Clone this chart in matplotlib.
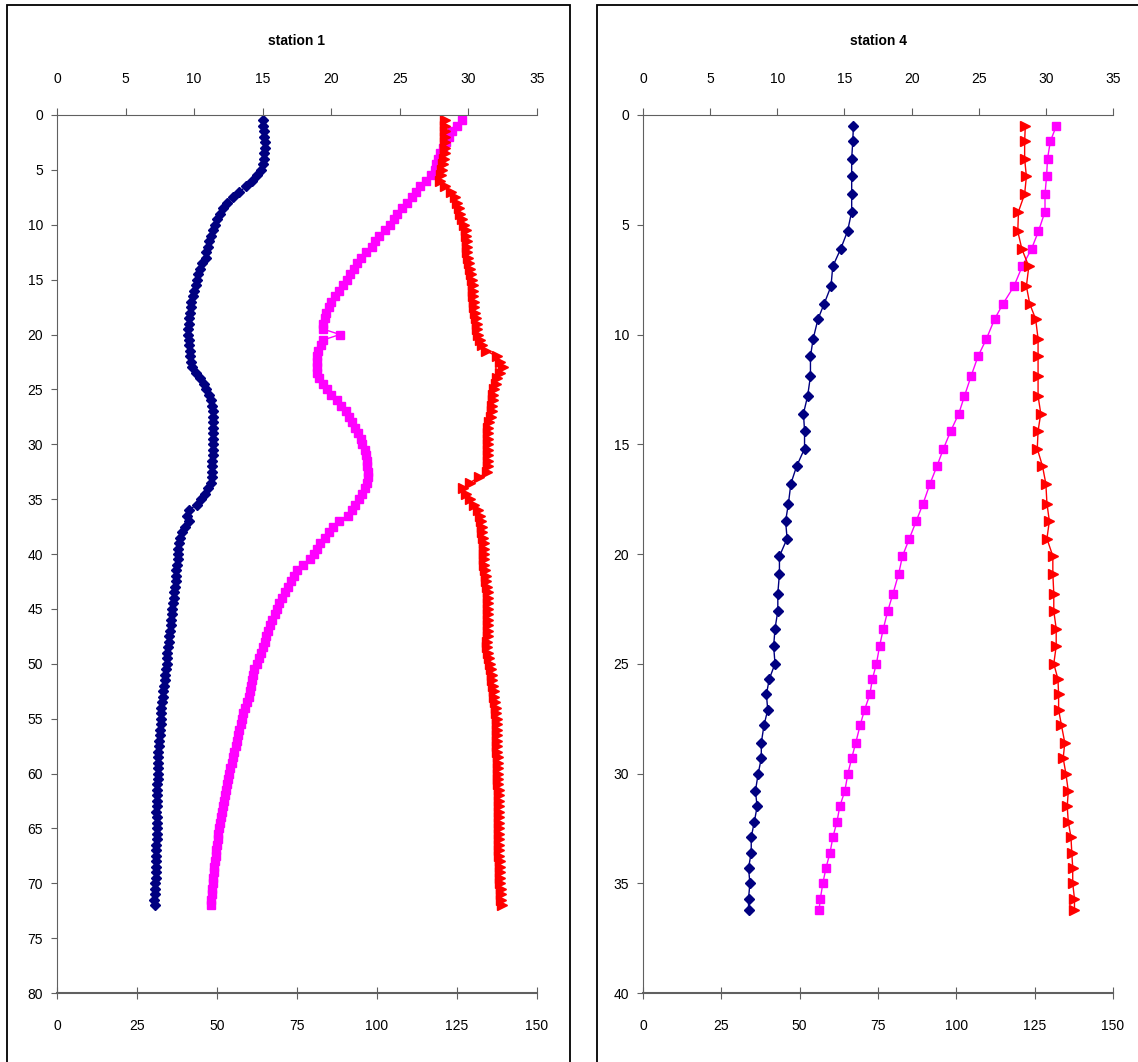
import matplotlib
matplotlib.use('Agg')
import matplotlib.pyplot as plt
from matplotlib.patches import Rectangle

plt.rcParams['font.family'] = ['Liberation Sans', 'DejaVu Sans']
plt.rcParams['font.size'] = 10

# ---- station 1 (depth every 0.5 m, 0.5 .. 72) ----
depth1 = [0.5, 1.0, 1.5, 2.0, 2.5, 3.0, 3.5, 4.0, 4.5, 5.0,
          5.5, 6.0, 6.5, 7.0, 7.5, 8.0, 8.5, 9.0, 9.5, 10.0,
          10.5, 11.0, 11.5, 12.0, 12.5, 13.0, 13.5, 14.0, 14.5, 15.0,
          15.5, 16.0, 16.5, 17.0, 17.5, 18.0, 18.5, 19.0, 19.5, 20.0,
          20.5, 21.0, 21.5, 22.0, 22.5, 23.0, 23.5, 24.0, 24.5, 25.0,
          25.5, 26.0, 26.5, 27.0, 27.5, 28.0, 28.5, 29.0, 29.5, 30.0,
          30.5, 31.0, 31.5, 32.0, 32.5, 33.0, 33.5, 34.0, 34.5, 35.0,
          35.5, 36.0, 36.5, 37.0, 37.5, 38.0, 38.5, 39.0, 39.5, 40.0,
          40.5, 41.0, 41.5, 42.0, 42.5, 43.0, 43.5, 44.0, 44.5, 45.0,
          45.5, 46.0, 46.5, 47.0, 47.5, 48.0, 48.5, 49.0, 49.5, 50.0,
          50.5, 51.0, 51.5, 52.0, 52.5, 53.0, 53.5, 54.0, 54.5, 55.0,
          55.5, 56.0, 56.5, 57.0, 57.5, 58.0, 58.5, 59.0, 59.5, 60.0,
          60.5, 61.0, 61.5, 62.0, 62.5, 63.0, 63.5, 64.0, 64.5, 65.0,
          65.5, 66.0, 66.5, 67.0, 67.5, 68.0, 68.5, 69.0, 69.5, 70.0,
          70.5, 71.0, 71.5, 72.0]

temp1 = [15.0, 15.0, 15.1, 15.1, 15.2, 15.2, 15.1, 15.1, 15.0, 14.9,
         14.6, 14.2, 13.8, 13.3, 12.8, 12.4, 12.1, 11.9, 11.7, 11.5,
         11.4, 11.2, 11.1, 11.0, 10.9, 10.9, 10.6, 10.4, 10.3, 10.2,
         10.1, 10.0, 9.9, 9.8, 9.75, 9.7, 9.65, 9.6, 9.55, 9.55,
         9.6, 9.6, 9.7, 9.7, 9.75, 9.85, 10.1, 10.4, 10.7, 10.9,
         11.1, 11.2, 11.3, 11.4, 11.4, 11.4, 11.4, 11.4, 11.4, 11.4,
         11.4, 11.35, 11.3, 11.3, 11.3, 11.3, 11.2, 11.0, 10.8, 10.5,
         10.2, 9.6, 9.5, 9.6, 9.3, 9.1, 9.0, 8.9, 8.85, 8.8,
         8.8, 8.75, 8.7, 8.7, 8.65, 8.6, 8.55, 8.5, 8.45, 8.4,
         8.35, 8.3, 8.3, 8.25, 8.2, 8.15, 8.1, 8.05, 8.0, 8.0,
         7.95, 7.9, 7.85, 7.8, 7.75, 7.7, 7.65, 7.6, 7.6, 7.55,
         7.55, 7.5, 7.5, 7.45, 7.45, 7.4, 7.4, 7.4, 7.35, 7.35,
         7.35, 7.3, 7.3, 7.3, 7.3, 7.3, 7.25, 7.3, 7.3, 7.3,
         7.3, 7.3, 7.25, 7.25, 7.25, 7.2, 7.2, 7.2, 7.2, 7.15,
         7.15, 7.15, 7.1, 7.15]

oxy1 = [126.5, 125.0, 123.4, 122.4, 121.5, 120.5, 119.8, 119.1, 118.5, 118.0,
        116.8, 115.3, 113.4, 112.1, 110.8, 109.4, 107.8, 106.4, 105.2, 104.1,
        102.6, 100.7, 99.5, 98.4, 96.7, 95.1, 93.7, 92.8, 91.7, 90.5,
        89.3, 88.0, 86.8, 85.7, 84.9, 84.2, 83.7, 83.2, 83.1, 88.4,
        83.2, 82.4, 81.7, 81.4, 81.2, 81.2, 81.4, 82.0, 83.2, 84.4,
        85.6, 87.4, 88.9, 90.2, 91.2, 92.1, 93.1, 94.1, 94.9, 95.4,
        96.1, 96.5, 96.8, 97.0, 97.2, 97.2, 96.8, 96.1, 95.4, 94.3,
        93.2, 92.2, 90.8, 88.2, 86.3, 85.1, 83.8, 82.2, 81.3, 80.3,
        79.0, 77.0, 75.0, 74.0, 73.0, 72.2, 71.2, 70.2, 69.4, 68.6,
        68.0, 67.2, 66.5, 65.9, 65.4, 64.9, 64.4, 63.7, 63.0, 62.4,
        61.7, 61.2, 60.9, 60.6, 60.3, 59.9, 59.4, 58.8, 58.2, 57.8,
        57.4, 57.0, 56.6, 56.2, 55.8, 55.4, 55.0, 54.6, 54.2, 53.8,
        53.4, 53.1, 52.8, 52.4, 52.1, 51.8, 51.5, 51.2, 50.9, 50.6,
        50.4, 50.2, 50.0, 49.8, 49.6, 49.4, 49.2, 49.0, 48.8, 48.6,
        48.5, 48.4, 48.2, 48.1]

sal1 = [28.3, 28.3, 28.3, 28.3, 28.3, 28.3, 28.3, 28.2, 28.15, 28.1,
        28.0, 27.9, 28.3, 28.7, 29.0, 29.15, 29.3, 29.4, 29.55, 29.7,
        29.8, 29.85, 29.9, 29.9, 29.9, 30.0, 30.05, 30.1, 30.2, 30.25,
        30.3, 30.35, 30.35, 30.4, 30.4, 30.5, 30.55, 30.6, 30.65, 30.7,
        30.85, 31.0, 31.3, 32.1, 32.3, 32.5, 32.3, 32.1, 32.0, 31.9,
        31.8, 31.8, 31.75, 31.7, 31.65, 31.5, 31.45, 31.4, 31.4, 31.4,
        31.4, 31.4, 31.4, 31.4, 31.35, 30.8, 30.1, 29.6, 29.8, 30.1,
        30.4, 30.7, 30.85, 30.9, 31.0, 31.0, 31.05, 31.1, 31.1, 31.1,
        31.15, 31.15, 31.2, 31.25, 31.3, 31.35, 31.4, 31.4, 31.4, 31.4,
        31.4, 31.4, 31.4, 31.4, 31.4, 31.35, 31.35, 31.4, 31.5, 31.6,
        31.65, 31.7, 31.75, 31.8, 31.85, 31.9, 31.95, 32.0, 32.0, 32.05,
        32.1, 32.1, 32.1, 32.1, 32.1, 32.1, 32.15, 32.15, 32.15, 32.15,
        32.15, 32.15, 32.2, 32.2, 32.2, 32.2, 32.2, 32.2, 32.2, 32.2,
        32.25, 32.25, 32.25, 32.25, 32.25, 32.3, 32.3, 32.3, 32.3, 32.3,
        32.35, 32.35, 32.4, 32.45]

# ---- station 4 ----
depth4 = [0.5, 1.2, 2.0, 2.8, 3.6, 4.4, 5.3, 6.1, 6.9, 7.8,
          8.6, 9.3, 10.2, 11.0, 11.9, 12.8, 13.6, 14.4, 15.2, 16.0,
          16.8, 17.7, 18.5, 19.3, 20.1, 20.9, 21.8, 22.6, 23.4, 24.2,
          25.0, 25.7, 26.4, 27.1, 27.8, 28.6, 29.3, 30.0, 30.8, 31.5,
          32.2, 32.9, 33.6, 34.3, 35.0, 35.7, 36.2]

temp4 = [15.67, 15.62, 15.54, 15.54, 15.54, 15.54, 15.23, 14.72, 14.13, 14.0,
         13.49, 13.03, 12.67, 12.47, 12.47, 12.26, 11.95, 12.03, 12.03, 11.44,
         11.01, 10.83, 10.62, 10.73, 10.16, 10.16, 10.04, 10.04, 9.83, 9.73,
         9.83, 9.4, 9.19, 9.29, 9.01, 8.81, 8.81, 8.58, 8.37, 8.5,
         8.29, 8.06, 8.06, 7.86, 7.96, 7.86, 7.86]

oxy4 = [131.9, 130.0, 129.1, 128.8, 128.3, 128.3, 126.2, 124.0, 121.0, 118.4,
        114.9, 112.2, 109.6, 106.9, 104.7, 102.6, 100.8, 98.2, 95.9, 93.8,
        91.6, 89.4, 87.2, 85.0, 82.8, 81.6, 79.8, 78.1, 76.7, 75.5,
        74.5, 73.2, 72.4, 70.7, 69.3, 67.9, 66.6, 65.4, 64.4, 62.8,
        61.9, 60.6, 59.7, 58.4, 57.4, 56.6, 56.2]

sal4 = [28.47, 28.42, 28.42, 28.55, 28.42, 27.96, 27.91, 28.21, 28.73, 28.55,
        28.80, 29.24, 29.42, 29.42, 29.42, 29.42, 29.62, 29.42, 29.36, 29.75,
        30.0, 30.08, 30.26, 30.08, 30.52, 30.52, 30.59, 30.59, 30.77, 30.77,
        30.59, 30.90, 30.95, 30.95, 31.16, 31.41, 31.29, 31.49, 31.67, 31.59,
        31.67, 31.87, 31.93, 32.0, 32.0, 32.13, 32.13]

top_ticks = [0, 5, 10, 15, 20, 25, 30, 35]
bottom_ticks = [0, 25, 50, 75, 100, 125, 150]

W, H = 1138, 1062
fig = plt.figure(figsize=(W / 100, H / 100), dpi=100)

# chart area frames
fig.patches.append(Rectangle((7 / W, -0.01), 563 / W, 1 - 5 / H + 0.01,
                             transform=fig.transFigure, fill=False,
                             edgecolor='black', linewidth=1.3))
fig.patches.append(Rectangle((597 / W, -0.01), 0.5, 1 - 5 / H + 0.01,
                             transform=fig.transFigure, fill=False,
                             edgecolor='black', linewidth=1.3))

spine_col = '#606060'


def make_panel(rect, title, depth, temp, oxy, sal, ymax):
    ax = fig.add_axes(rect)
    ax2 = ax.twiny()

    ax.plot(oxy, depth, color='#FF00FF', marker='s', ms=5.5, lw=1, mec='#FF00FF')
    ax2.plot(temp, depth, color='#000080', marker='D', ms=5.5, lw=1, mec='#000080')
    ax2.plot(sal, depth, color='#FF0000', marker='>', ms=7, lw=1, mec='#FF0000')

    ax.set_xlim(0, 150)
    ax2.set_xlim(0, 35)
    ax.set_ylim(ymax, 0)
    ax.set_xticks(bottom_ticks)
    ax2.set_xticks(top_ticks)
    ax.set_yticks(list(range(0, ymax + 1, 5)))

    for s in ['top', 'right']:
        ax.spines[s].set_visible(False)
    for s in ['bottom', 'right', 'left']:
        ax2.spines[s].set_visible(False)
    ax.spines['left'].set_color(spine_col)
    ax.spines['bottom'].set_color(spine_col)
    ax.spines['bottom'].set_linewidth(1.5)
    ax2.spines['top'].set_color(spine_col)

    ax.tick_params(axis='x', direction='inout', length=9, pad=14, color=spine_col, labelsize=10)
    ax.tick_params(axis='y', direction='out', length=4, pad=6, color=spine_col, labelsize=10)
    ax2.tick_params(axis='x', direction='out', length=5, pad=16, color=spine_col, labelsize=10)
    ax.patch.set_alpha(0)
    ax2.patch.set_alpha(0)

    cx = rect[0] + rect[2] / 2
    fig.text(cx, 1 - 41 / H, title, ha='center', va='center', fontsize=10, fontweight='bold')


make_panel([57 / W, 1 - 993 / H, 480 / W, 878 / H], 'station 1', depth1, temp1, oxy1, sal1, 80)
make_panel([643 / W, 1 - 993 / H, 470 / W, 878 / H], 'station 4', depth4, temp4, oxy4, sal4, 40)

fig.savefig('out.png', dpi=100)
